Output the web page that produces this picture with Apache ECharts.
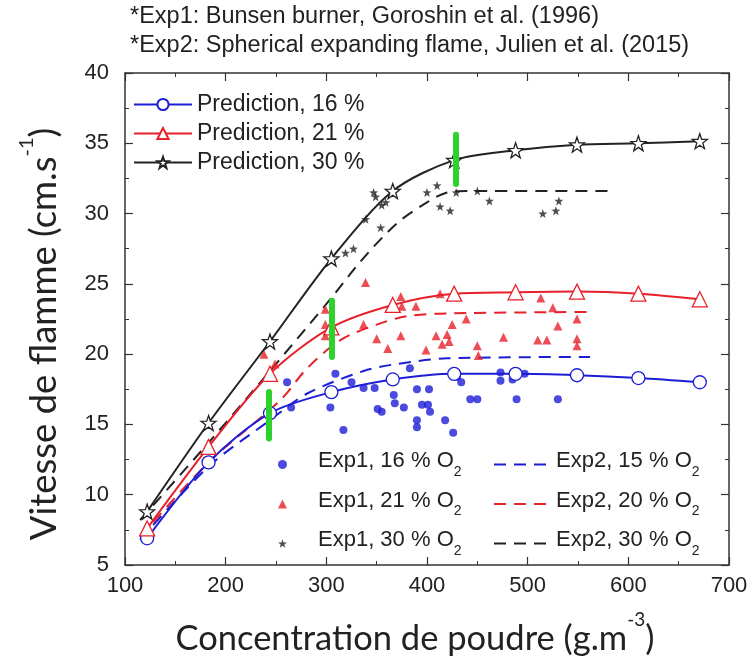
<!DOCTYPE html>
<html>
<head>
<meta charset="utf-8">
<script src="https://cdn.jsdelivr.net/npm/echarts@6/dist/echarts.min.js"></script>
<style>
  html, body { margin: 0; padding: 0; background: #fff; }
  #chart { width: 751px; height: 659px; }
</style>
</head>
<body>
<div id="chart"></div>
<script>
// model predictions (symbols every 61 g/m3)
var predX = [122, 183, 244, 305, 366, 427, 488, 549, 610, 671];
var pred16 = [6.9, 12.3, 15.8, 17.3, 18.2, 18.6, 18.6, 18.5, 18.3, 18.0];
var pred21 = [7.6, 13.4, 18.6, 21.9, 23.5, 24.3, 24.4, 24.45, 24.3, 23.9];
var pred30 = [8.8, 15.1, 20.9, 26.8, 31.6, 33.8, 34.5, 34.9, 35.0, 35.15];

// Exp1 : Bunsen burner (Goroshin 1996)
var exp1_16 = [[261,18.0],[265,16.2],[304,16.2],[309,18.6],[317,14.6],[325,18.0],[337,17.6],[348,17.6],[351,16.1],[355,15.9],
  [367,17.1],[368,16.5],[377,16.2],[383,19.0],[390,17.5],[390,15.3],[390,14.8],[395,16.4],[401,16.4],[402,17.5],[403,15.9],
  [418,15.3],[426,14.4],[430,18.4],[434,18.0],[443,16.8],[450,16.8],[473,18.7],[473,18.1],[485,18.2],[489,16.8],[497,18.6],[530,16.8]];
var exp1_21 = [[238,20.0],[249,19.3],[299,23.2],[299,22.1],[299,21.3],[337,22.1],[339,25.1],[350,21.1],[361,20.4],[374,24.1],
  [374,21.3],[375,23.4],[389,23.4],[399,20.3],[409,21.3],[413,24.3],[415,20.7],[420,21.4],[422,20.9],[425,22.1],[439,22.5],
  [450,20.6],[451,19.9],[476,21.2],[510,21.0],[513,24.0],[519,21.0],[525,23.3],[530,22.0],[549,22.5],[549,21.1],[549,20.6]];
var exp1_30 = [[319,27.2],[327,27.5],[339,29.6],[347,31.5],[349,31.2],[354,29.0],[355,30.6],[359,30.8],[400,31.5],[410,32.0],
  [413,30.5],[423,30.2],[429,31.5],[450,31.6],[462,30.9],[515,30.0],[528,30.2],[531,30.9]];

// Exp2 : spherical expanding flame (Julien 2015)
var exp2_15 = [[115,6.8],[183,12.0],[244,15.3],[281,17.2],[337,18.8],[370,19.3],[420,19.7],[562,19.8]];
var exp2_20 = [[115,7.0],[183,12.3],[254,16.7],[281,19.0],[314,21.0],[350,22.1],[380,22.7],[420,22.9],[565,23.0]];
var exp2_30 = [[115,8.2],[183,13.7],[244,18.8],[305,24.0],[334,26.6],[370,29.3],[400,30.8],[420,31.5],[440,31.6],[585,31.6]];

// green bars
var barX = [243, 305, 429];
var barLow = [14.0, 19.8, 32.1];
var barHigh = [17.3, 23.8, 35.6];

var xTicks = [100, 700, 100];
var yTicks = [5, 40, 5];

var BLUE = '#1d1dd6', RED = '#e8202a', BLACK = '#222', GREEN = '#2fd12f';
var STAR = 'path://M0,-10 L2.35,-3.24 9.51,-3.09 3.8,1.24 5.88,8.09 0,4 -5.88,8.09 -3.8,1.24 -9.51,-3.09 -2.35,-3.24 Z';
var FONT = '"Liberation Sans", Arial, sans-serif';
var NAMEFONT = 'Lato, sans-serif';

function zip(xs, ys) {
  return xs.map(function (x, i) { return [x, ys[i]]; });
}

var axisLine = { show: true, lineStyle: { color: '#333', width: 1.5 } };
var ticksIn = { show: true, inside: true, length: 8, lineStyle: { color: '#333', width: 1.2 } };
var minorIn = { show: true, splitNumber: 2, length: 4, lineStyle: { color: '#333', width: 1 } };

function predSeries(name, data, color, symbol, size) {
  return {
    name: name, type: 'line', data: data, smooth: 0.3,
    symbol: symbol, symbolSize: size, showAllSymbol: true,
    lineStyle: { color: color, width: 2 },
    itemStyle: { color: '#fff', borderColor: color, borderWidth: 1.3 },
    z: 4
  };
}
function expSeries(name, data, color, symbol, size) {
  return {
    name: name, type: 'scatter', data: data,
    symbol: symbol, symbolSize: size,
    itemStyle: { color: color }, z: 3
  };
}
function dashSeries(name, data, color) {
  return {
    name: name, type: 'line', data: data, smooth: 0.3, symbol: 'none',
    itemStyle: { color: color, opacity: 0 },
    lineStyle: { color: color, width: 2, type: [12, 8] }, z: 2
  };
}

var green = {
  name: 'bars', type: 'line', data: [], silent: true,
  markLine: {
    symbol: 'none', silent: true, label: { show: false },
    lineStyle: { color: GREEN, width: 6, type: 'solid', cap: 'round' },
    data: barX.map(function (x, i) { return [{ coord: [x, barLow[i]] }, { coord: [x, barHigh[i]] }]; })
  },
  z: 6
};

function o2Rich(padLeft) {
  return {
    a: { fontSize: 22, color: '#222', lineHeight: 24, verticalAlign: 'top', fontFamily: FONT, padding: [0, 0, 0, padLeft] },
    b: { fontSize: 14, color: '#222', lineHeight: 29, verticalAlign: 'bottom', fontFamily: FONT }
  };
}
function o2Fmt(n) { return '{a|' + n.slice(0, -1) + '}{b|2}'; }

var chart = echarts.init(document.getElementById('chart'));
chart.setOption({
  backgroundColor: '#fff',
  animation: false,
  textStyle: { fontFamily: FONT },
  grid: { left: 125, right: 22, top: 73, bottom: 94, containLabel: false, outerBoundsMode: 'none' },
  graphic: [
    { type: 'text', left: 130, top: 5, style: { text: '*Exp1: Bunsen burner, Goroshin et al. (1996)', font: '23.5px ' + FONT, fill: '#222' } },
    { type: 'text', left: 130, top: 34, style: { text: '*Exp2: Spherical expanding flame, Julien et al. (2015)', font: '23.5px ' + FONT, fill: '#222' } }
  ],
  xAxis: [{
    type: 'value', min: xTicks[0], max: xTicks[1], interval: xTicks[2],
    axisLine: axisLine, axisTick: ticksIn, minorTick: minorIn, splitLine: { show: false },
    axisLabel: { fontSize: 22, color: '#222', margin: 10, fontFamily: FONT },
    name: '{a|Concentration de poudre (g.m}{b|-3}{a|)}', nameLocation: 'middle', nameGap: 45,
    nameTextStyle: { padding: [0, 24, 0, 0], rich: {
      a: { fontSize: 34.5, fontFamily: NAMEFONT, color: '#222', lineHeight: 46, verticalAlign: 'bottom' },
      b: { fontSize: 19, fontFamily: NAMEFONT, color: '#222', lineHeight: 46, verticalAlign: 'top' } } }
  }, {
    type: 'value', position: 'top', min: xTicks[0], max: xTicks[1], interval: xTicks[2],
    axisLine: axisLine, axisTick: ticksIn, minorTick: minorIn, splitLine: { show: false }, axisLabel: { show: false }
  }],
  yAxis: [{
    type: 'value', min: yTicks[0], max: yTicks[1], interval: yTicks[2],
    axisLine: axisLine, axisTick: ticksIn, minorTick: minorIn, splitLine: { show: false },
    axisLabel: { fontSize: 22, color: '#222', margin: 16, fontFamily: FONT },
    name: '{a|Vitesse de flamme (cm.s}{b|-1}{a|)}', nameLocation: 'middle', nameGap: 62,
    nameTextStyle: { padding: [0, 30, 0, 0], rich: {
      a: { fontSize: 36.5, fontFamily: NAMEFONT, color: '#222', lineHeight: 46, verticalAlign: 'bottom' },
      b: { fontSize: 20, fontFamily: NAMEFONT, color: '#222', lineHeight: 46, verticalAlign: 'top' } } }
  }, {
    type: 'value', position: 'right', min: yTicks[0], max: yTicks[1], interval: yTicks[2],
    axisLine: axisLine, axisTick: ticksIn, minorTick: minorIn, splitLine: { show: false }, axisLabel: { show: false }
  }],
  legend: [{
    orient: 'vertical', left: 128, top: 88, itemWidth: 58, itemHeight: 14, itemGap: 6,
    data: ['Prediction, 16 %', 'Prediction, 21 %', 'Prediction, 30 %'],
    textStyle: { fontSize: 23, color: '#222', lineHeight: 23, fontFamily: FONT }
  }, {
    orient: 'vertical', left: 273, top: 445, itemWidth: 9, itemHeight: 9, itemGap: 10.5,
    data: ['Exp1, 16 % O2', 'Exp1, 21 % O2', 'Exp1, 30 % O2'],
    formatter: o2Fmt,
    textStyle: { rich: o2Rich(26) }
  }, {
    orient: 'vertical', left: 488, top: 445, itemWidth: 57, itemHeight: 9, itemGap: 10.5,
    data: ['Exp2, 15 % O2', 'Exp2, 20 % O2', 'Exp2, 30 % O2'],
    formatter: o2Fmt,
    textStyle: { rich: o2Rich(0) }
  }],
  series: [
    dashSeries('Exp2, 15 % O2', exp2_15, BLUE),
    dashSeries('Exp2, 20 % O2', exp2_20, RED),
    dashSeries('Exp2, 30 % O2', exp2_30, BLACK),
    expSeries('Exp1, 16 % O2', exp1_16, BLUE, 'circle', 8),
    expSeries('Exp1, 21 % O2', exp1_21, RED, 'triangle', 9),
    expSeries('Exp1, 30 % O2', exp1_30, BLACK, STAR, 9),
    predSeries('Prediction, 16 %', zip(predX, pred16), BLUE, 'circle', 13),
    predSeries('Prediction, 21 %', zip(predX, pred21), RED, 'triangle', 15),
    predSeries('Prediction, 30 %', zip(predX, pred30), BLACK, STAR, 15),
    green
  ]
});
</script>
</body>
</html>
